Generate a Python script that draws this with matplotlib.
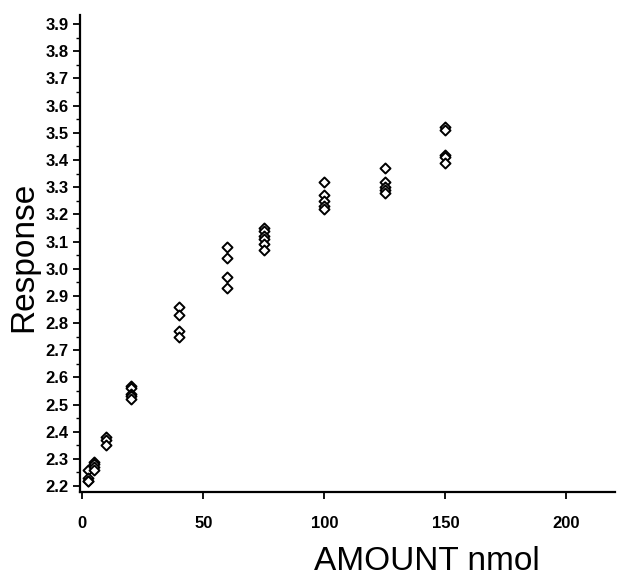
import matplotlib
matplotlib.use("Agg")
import matplotlib.pyplot as plt
from matplotlib.ticker import MultipleLocator, FormatStrFormatter

# Data
amounts = [2.5, 5, 10, 20, 40, 60, 75, 100, 125, 150]
resp_2_5 = [2.26, 2.23, 2.22, 2.22]
resp_5 = [2.29, 2.28, 2.27, 2.26]
resp_10 = [2.38, 2.37, 2.35]
resp_20 = [2.57, 2.56, 2.54, 2.53, 2.52]
resp_40 = [2.86, 2.83, 2.77, 2.75]
resp_60 = [3.08, 3.04, 2.97, 2.93]
resp_75 = [3.15, 3.14, 3.12, 3.11, 3.09, 3.07]
resp_100 = [3.32, 3.27, 3.25, 3.23, 3.22]
resp_125 = [3.37, 3.32, 3.30, 3.29, 3.28]
resp_150 = [3.52, 3.51, 3.42, 3.41, 3.39]
responses = [resp_2_5, resp_5, resp_10, resp_20, resp_40, resp_60,
             resp_75, resp_100, resp_125, resp_150]

x_ticks = [0, 50, 100, 150, 200]
y_ticks = [2.2, 2.3, 2.4, 2.5, 2.6, 2.7, 2.8, 2.9, 3.0, 3.1, 3.2, 3.3,
           3.4, 3.5, 3.6, 3.7, 3.8, 3.9]

xs, ys = [], []
for a, rs in zip(amounts, responses):
    for r in rs:
        xs.append(a)
        ys.append(r)

plt.rcParams['font.family'] = ['Liberation Sans', 'DejaVu Sans']

fig = plt.figure(figsize=(6.28, 5.83), dpi=100)
ax = fig.add_axes([0.127, 0.156, 0.852, 0.818])

ax.scatter(xs, ys, marker='D', s=26, facecolors='white', edgecolors='black',
           linewidths=1.4, zorder=3)

ax.set_xlim(-1, 220)
ax.set_ylim(2.178, 3.933)
ax.set_xticks(x_ticks)
ax.set_yticks(y_ticks)
ax.yaxis.set_minor_locator(MultipleLocator(0.05))
ax.yaxis.set_major_formatter(FormatStrFormatter('%.1f'))

for s in ['top', 'right']:
    ax.spines[s].set_visible(False)
for s in ['left', 'bottom']:
    ax.spines[s].set_linewidth(1.6)

ax.tick_params(axis='both', which='major', direction='out', length=5,
               width=1.3, labelsize=12)
ax.tick_params(axis='y', which='minor', direction='out', length=3, width=1.0)
ax.tick_params(axis='x', pad=12)
ax.tick_params(axis='y', pad=3)
for lab in ax.get_xticklabels() + ax.get_yticklabels():
    lab.set_fontweight('bold')

fig.text(0.038, 0.56, 'Response', rotation=90, fontsize=24,
         ha='center', va='center')
fig.text(0.68, 0.037, 'AMOUNT nmol', fontsize=24, ha='center', va='center')

fig.savefig('out.png', dpi=100)
